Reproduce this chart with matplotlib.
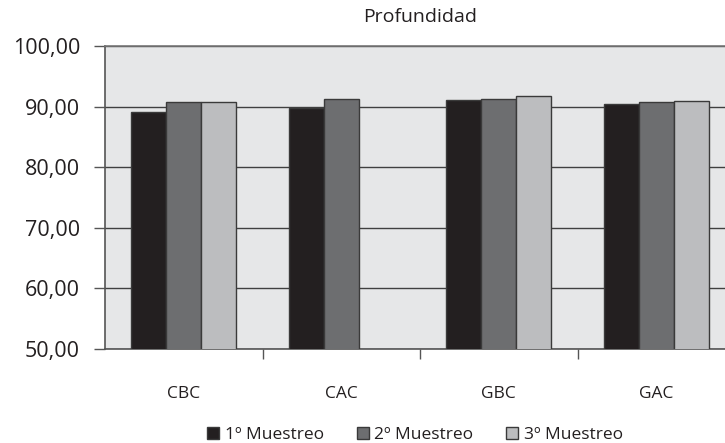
import numpy as np
import matplotlib.pyplot as plt
from matplotlib.ticker import FuncFormatter

plt.rcParams['font.family'] = ['Open Sans', 'DejaVu Sans']

categories = ["CBC", "CAC", "GBC", "GAC"]
series_names = ["1º Muestreo", "2º Muestreo", "3º Muestreo"]
muestreo_1 = [89.05, 89.8, 91.1, 90.4]
muestreo_2 = [90.7, 91.3, 91.3, 90.7]
muestreo_3 = [90.7, np.nan, 91.7, 91.0]

colors = ["#231f20", "#6d6e70", "#bcbdbf"]

fig = plt.figure(figsize=(7.25, 4.43), dpi=100)
# axes run past the right edge, as in the original (clipped chart)
ax = fig.add_axes([105 / 725, 94 / 443, 630 / 725, 303 / 443])
ax.set_facecolor("#e6e7e8")

x = np.arange(len(categories))
width = 0.222
for i, (vals, name) in enumerate(zip([muestreo_1, muestreo_2, muestreo_3], series_names)):
    ax.bar(x + (i - 1) * width, vals, width, color=colors[i], edgecolor="#3a3a3a",
           linewidth=1.0, label=name, zorder=3)

ax.set_ylim(50, 100)
ax.set_xlim(-0.5, len(categories) - 0.5)
ax.set_yticks([50, 60, 70, 80, 90, 100])
ax.yaxis.set_major_formatter(FuncFormatter(lambda v, p: f"{v:.2f}".replace(".", ",")))
ax.yaxis.grid(True, color="#404040", linewidth=1.0, zorder=1)

ax.set_xticks(x)
ax.set_xticklabels(categories)
ax.set_xticks(np.arange(0.5, len(categories) - 0.5, 1), minor=True)
ax.tick_params(axis="x", which="major", length=0, pad=27, labelsize=12.5, colors="#231f20")
ax.tick_params(axis="x", which="minor", length=7, width=1, color="#555555", direction="out")
ax.tick_params(axis="y", length=8, width=1, color="#555555", labelsize=15.5,
               labelcolor="#231f20", pad=10)

for s in ["left", "bottom"]:
    ax.spines[s].set_color("#555555")
    ax.spines[s].set_linewidth(1.2)
ax.spines["top"].set_color("#777777")
ax.spines["top"].set_linewidth(1.2)
ax.spines["right"].set_visible(False)

ax.set_title("Profundidad", fontsize=14, color="#231f20", pad=17)

fig.legend(loc="lower center", bbox_to_anchor=(415 / 725, -0.035), ncol=3, frameon=False,
           fontsize=12.5, handlelength=0.7, handleheight=0.7, handletextpad=0.3,
           columnspacing=1.9, labelcolor="#231f20")

fig.savefig("out.png", dpi=100)
